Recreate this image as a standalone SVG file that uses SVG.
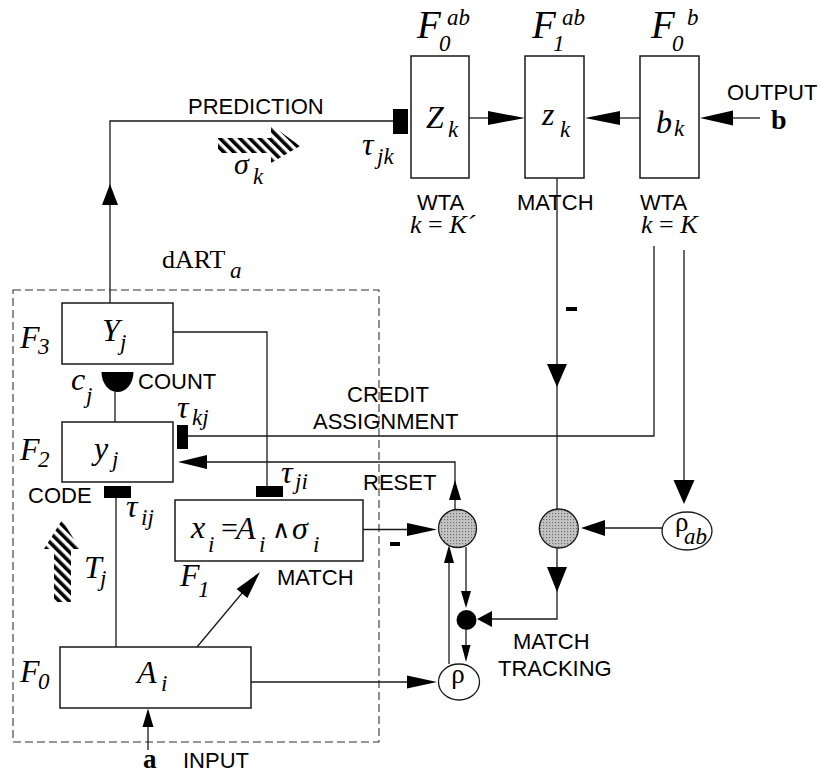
<svg xmlns="http://www.w3.org/2000/svg" width="822" height="775" viewBox="0 0 822 775">
<defs>
<style>
.ln{fill:none;stroke:#1a1a1a;stroke-width:1.3}
.box{fill:#fff;stroke:#1a1a1a;stroke-width:1.5}
.ah{fill:#000;stroke:none}
.syn{fill:#000;stroke:none}
.lab{font-family:"Liberation Sans",Arial,Helvetica,sans-serif;font-size:22px;fill:#000}
.m{font-family:"Liberation Serif","Times New Roman",serif;font-style:italic;fill:#000}
.r{font-family:"Liberation Serif","Times New Roman",serif;font-style:normal;fill:#000}
.b{font-family:"Liberation Serif","Times New Roman",serif;font-weight:bold;fill:#000}
.big{font-size:32px}
.sub{font-size:23px}
.gray{fill:url(#stip);stroke:#1a1a1a;stroke-width:1.3}
.ell{fill:#fff;stroke:#1a1a1a;stroke-width:1.3}
.dash{fill:none;stroke:#333;stroke-width:1.1;stroke-dasharray:8 4}
</style>
<pattern id="hatch" patternUnits="userSpaceOnUse" width="7" height="7" patternTransform="rotate(-45)">
<rect x="0" y="0" width="3.6" height="7" fill="#000"/>
</pattern>
<pattern id="stip" patternUnits="userSpaceOnUse" width="3" height="3">
<rect width="3" height="3" fill="#c4c4c4"/>
<rect width="1.2" height="1.2" fill="#6e6e6e"/>
</pattern>
</defs>
<rect width="822" height="775" fill="#fff"/>

<rect class="dash" x="13" y="290" width="366" height="452"/>
<text x="162" y="268" class="r" font-size="26">dART</text>
<text x="230" y="278" class="m sub">a</text>

<g id="connectors">
<path class="ln" d="M110,303 V121 H393"/>
<polygon class="ah" points="110,184 102,205 118,205"/>
<line class="ln" x1="469" y1="118" x2="490" y2="118"/>
<polygon class="ah" points="525,118 488,111 488,125"/>
<line class="ln" x1="640" y1="118" x2="618" y2="118"/>
<polygon class="ah" points="585,118 620,111 620,125"/>
<line class="ln" x1="760" y1="118" x2="731" y2="118"/>
<polygon class="ah" points="700,118 733,110.5 733,125.5"/>
<line class="ln" x1="557" y1="178" x2="557" y2="509"/>
<polygon class="ah" points="557,387 547,364 567,364"/>
<path class="ln" d="M557,548 V619 H490"/>
<polygon class="ah" points="557,592 547,567 567,567"/>
<polygon class="ah" points="477,619 492,611 492,627"/>
<path class="ln" d="M654,246 V436 H188"/>
<line class="ln" x1="684" y1="250" x2="684" y2="482"/>
<polygon class="ah" points="684,504 673.5,480 694.5,480"/>
<line class="ln" x1="662" y1="528" x2="603" y2="528"/>
<polygon class="ah" points="581,528 605,520 605,536"/>
<path class="ln" d="M173,332 H267 V486"/>
<path class="ln" d="M455,509 V462 H205"/>
<polygon class="ah" points="178,462 207,455 207,469"/>
<polygon class="ah" points="455,480 449,500 461,500"/>
<line class="ln" x1="363" y1="529.5" x2="409" y2="529.5"/>
<polygon class="ah" points="437,529.5 407,523 407,536"/>
<line class="ln" x1="466" y1="547" x2="466" y2="593"/>
<polygon class="ah" points="466,608 461,591 471,591"/>
<line class="ln" x1="466" y1="630" x2="466" y2="647"/>
<polygon class="ah" points="466,662 461.5,645 470.5,645"/>
<line class="ln" x1="449" y1="664" x2="449" y2="561"/>
<polygon class="ah" points="449,545 444,563 454,563"/>
<line class="ln" x1="251" y1="682" x2="409" y2="682"/>
<polygon class="ah" points="437,682 407,675.5 407,688.5"/>
<line class="ln" x1="197" y1="647" x2="243" y2="592"/>
<polygon class="ah" points="260,572 247.4,597.9 236.6,588.9"/>
<line class="ln" x1="148" y1="750" x2="148" y2="725"/>
<polygon class="ah" points="148,708.5 142.5,727 153.5,727"/>
<line class="ln" x1="116" y1="498" x2="116" y2="647"/>
<line class="ln" x1="115" y1="392" x2="115" y2="422"/>
<rect class="syn" x="390" y="542" width="10" height="4"/>
<rect class="syn" x="566" y="307" width="11" height="4"/>
</g>

<g id="prediction-signal">
<text x="188" y="114" class="lab">PREDICTION</text>
<path fill="url(#hatch)" d="M218,138 H271 V125 L300,146 L271,163 V153 H218 Z"/>
<text x="234" y="174" class="m" font-size="30">σ</text>
<text x="253" y="184" class="m sub">k</text>
<rect class="syn" x="393" y="109" width="15" height="25"/>
<text x="362" y="155" class="m big">τ</text>
<text x="377" y="164" class="m sub">jk</text>
</g>

<g id="F0ab">
<rect class="box" x="411" y="56" width="58" height="122"/>
<text x="417" y="38" class="m" font-size="39">F</text>
<text x="439" y="51" class="m sub">0</text>
<text x="447" y="25" class="m sub">ab</text>
<text x="426" y="128" class="m big">Z</text>
<text x="448" y="137" class="m sub">k</text>
<text x="417" y="210" class="lab">WTA</text>
<text x="410" y="233" font-size="26"><tspan class="m">k</tspan><tspan class="r"> = </tspan><tspan class="m">K´</tspan></text>
</g>

<g id="F1ab">
<rect class="box" x="525" y="56" width="59" height="122"/>
<text x="532" y="38" class="m" font-size="39">F</text>
<text x="553" y="51" class="m sub">1</text>
<text x="562" y="25" class="m sub">ab</text>
<text x="542" y="125" class="m big">z</text>
<text x="560" y="137" class="m sub">k</text>
<text x="517" y="210" class="lab">MATCH</text>
</g>

<g id="F0b">
<rect class="box" x="640" y="56" width="59" height="122"/>
<text x="651" y="38" class="m" font-size="39">F</text>
<text x="672" y="51" class="m sub">0</text>
<text x="687" y="25" class="m sub">b</text>
<text x="656" y="133" class="m big">b</text>
<text x="674" y="136" class="m sub">k</text>
<text x="640" y="210" class="lab">WTA</text>
<text x="641" y="233" font-size="26"><tspan class="m">k</tspan><tspan class="r"> = </tspan><tspan class="m">K</tspan></text>
</g>

<g id="output">
<text x="727" y="100" class="lab">OUTPUT</text>
<text x="771" y="129" class="b" font-size="28">b</text>
</g>

<g id="F3">
<rect class="box" x="62" y="303" width="111" height="61"/>
<text x="20" y="348" class="m big">F</text>
<text x="38" y="354" class="m sub">3</text>
<text x="102" y="341" class="m big">Y</text>
<text x="120" y="350" class="m sub">j</text>
</g>

<g id="count">
<path class="syn" d="M101.5,372 H133.5 A16,20 0 0 1 101.5,372 Z"/>
<text x="71" y="390" class="m big">c</text>
<text x="86" y="403" class="m sub">j</text>
<text x="138" y="389" class="lab">COUNT</text>
</g>

<g id="F2">
<rect class="box" x="62" y="422" width="111" height="60"/>
<text x="20" y="460" class="m big">F</text>
<text x="38" y="467" class="m sub">2</text>
<text x="94" y="459" class="m big">y</text>
<text x="112" y="467" class="m sub">j</text>
<rect class="syn" x="177" y="425" width="11" height="24"/>
<text x="177" y="418" class="m big">τ</text>
<text x="192" y="425" class="m sub">kj</text>
</g>

<g id="credit-assignment">
<text x="347" y="402" class="lab">CREDIT</text>
<text x="313" y="429" class="lab">ASSIGNMENT</text>
</g>

<g id="reset-label">
<text x="363" y="490" class="lab">RESET</text>
<rect class="syn" x="256" y="486" width="27" height="11"/>
<text x="281" y="483" class="m big">τ</text>
<text x="295" y="489" class="m sub">ji</text>
</g>

<g id="code">
<text x="28" y="503" class="lab">CODE</text>
<rect class="syn" x="104" y="486" width="27" height="12"/>
<text x="126" y="517" class="m big">τ</text>
<text x="141" y="525" class="m sub">ij</text>
<path fill="url(#hatch)" d="M62,520 L80,549 H71 V602 H54 V549 H44 Z"/>
<text x="84" y="578" class="m big">T</text>
<text x="100" y="586" class="m sub">j</text>
</g>

<g id="F1">
<rect class="box" x="175" y="500" width="188" height="61"/>
<text x="191" y="538" class="m big">x</text>
<text x="208" y="552" class="m sub">i</text>
<text x="221" y="538" class="r" font-size="30">=</text>
<text x="236" y="539" class="m big">A</text>
<text x="259" y="552" class="m sub">i</text>
<text x="272" y="538" class="r" font-size="25">∧</text>
<text x="292" y="539" class="m big">σ</text>
<text x="313" y="552" class="m sub">i</text>
<text x="180" y="586" class="m big">F</text>
<text x="198" y="597" class="m sub">1</text>
<text x="277" y="585" class="lab">MATCH</text>
</g>

<g id="F0">
<rect class="box" x="60" y="647" width="191" height="61"/>
<text x="20" y="682" class="m big">F</text>
<text x="38" y="689" class="m sub">0</text>
<text x="137" y="683" class="m big">A</text>
<text x="161" y="691" class="m sub">i</text>
</g>

<g id="input">
<text x="143" y="768" class="b" font-size="27">a</text>
<text x="183" y="768" class="lab">INPUT</text>
</g>

<g id="reset-node">
<circle class="gray" cx="457.5" cy="528.5" r="19"/>
</g>

<g id="match-node">
<circle class="gray" cx="558.8" cy="528.5" r="19.5"/>
</g>

<g id="rho-ab">
<ellipse class="ell" cx="687" cy="531" rx="25" ry="19"/>
<text x="675" y="531" class="r" font-size="27">ρ</text>
<text x="684" y="544" class="m sub">ab</text>
</g>

<g id="match-tracking">
<circle cx="466.5" cy="620" r="10" fill="#000"/>
<text x="513" y="649" class="lab">MATCH</text>
<text x="498" y="676" class="lab">TRACKING</text>
</g>

<g id="rho">
<ellipse class="ell" cx="459" cy="682" rx="20.5" ry="18"/>
<text x="458" y="683" class="r" font-size="27" text-anchor="middle">ρ</text>
</g>
</svg>
